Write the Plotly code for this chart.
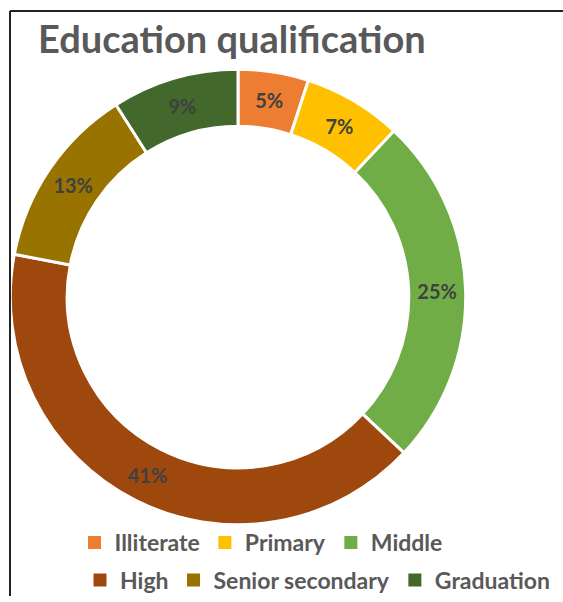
import plotly.graph_objects as go

categories = ["Illiterate", "Primary", "Middle", "High", "Senior secondary", "Graduation"]
values = [5, 7, 25, 41, 13, 9]
colors = ["#ED7D31", "#FFC000", "#70AD47", "#9E480E", "#997300", "#43682B"]
legend_rows = ["legend", "legend", "legend", "legend2", "legend2", "legend2"]

fig = go.Figure()
fig.add_trace(go.Pie(
    labels=categories, values=values, sort=False, direction="clockwise", rotation=0,
    hole=0.75,
    marker=dict(colors=colors, line=dict(color="white", width=3)),
    texttemplate="%{value}%", textposition="inside", insidetextorientation="horizontal",
    textfont=dict(family="Lato", size=20, color="#404040", weight="bold"),
    domain=dict(x=[10/563, 466/563], y=[1-530/602, 1-70/602]),
    showlegend=False, hoverinfo="label+percent",
))

# legend entries (one per category, split over two legend rows)
for cat, col, lg in zip(categories, colors, legend_rows):
    fig.add_trace(go.Scatter(
        x=[None], y=[None], mode="markers", name=cat, legend=lg,
        marker=dict(symbol="square", size=13, color=col),
        showlegend=True,
    ))

legend_font = dict(family="Lato", size=23, color="#595959", weight="bold")
fig.update_layout(
    width=563, height=602,
    margin=dict(l=0, r=0, t=0, b=0),
    paper_bgcolor="white", plot_bgcolor="rgba(0,0,0,0)",
    xaxis=dict(visible=False), yaxis=dict(visible=False),
    title=dict(text="Education qualification", x=38/563, xanchor="left", y=1-40/602, yanchor="middle",
               font=dict(family="Lato", size=38, color="#595959", weight="bold")),
    legend=dict(orientation="h", x=261/563, xanchor="center", y=1-548/602, yanchor="middle",
                font=legend_font, bgcolor="rgba(0,0,0,0)", traceorder="normal", itemwidth=30),
    legend2=dict(orientation="h", x=318/563, xanchor="center", y=1-586/602, yanchor="middle",
                 font=legend_font, bgcolor="rgba(0,0,0,0)", traceorder="normal", itemwidth=30),
    shapes=[
        dict(type="line", xref="paper", yref="paper", x0=10/563, x1=1, y0=1-11/602, y1=1-11/602,
             line=dict(color="#222", width=2)),
        dict(type="line", xref="paper", yref="paper", x0=10/563, x1=10/563, y0=0, y1=1-11/602,
             line=dict(color="#222", width=2)),
    ],
)

fig.write_html("out.html")
